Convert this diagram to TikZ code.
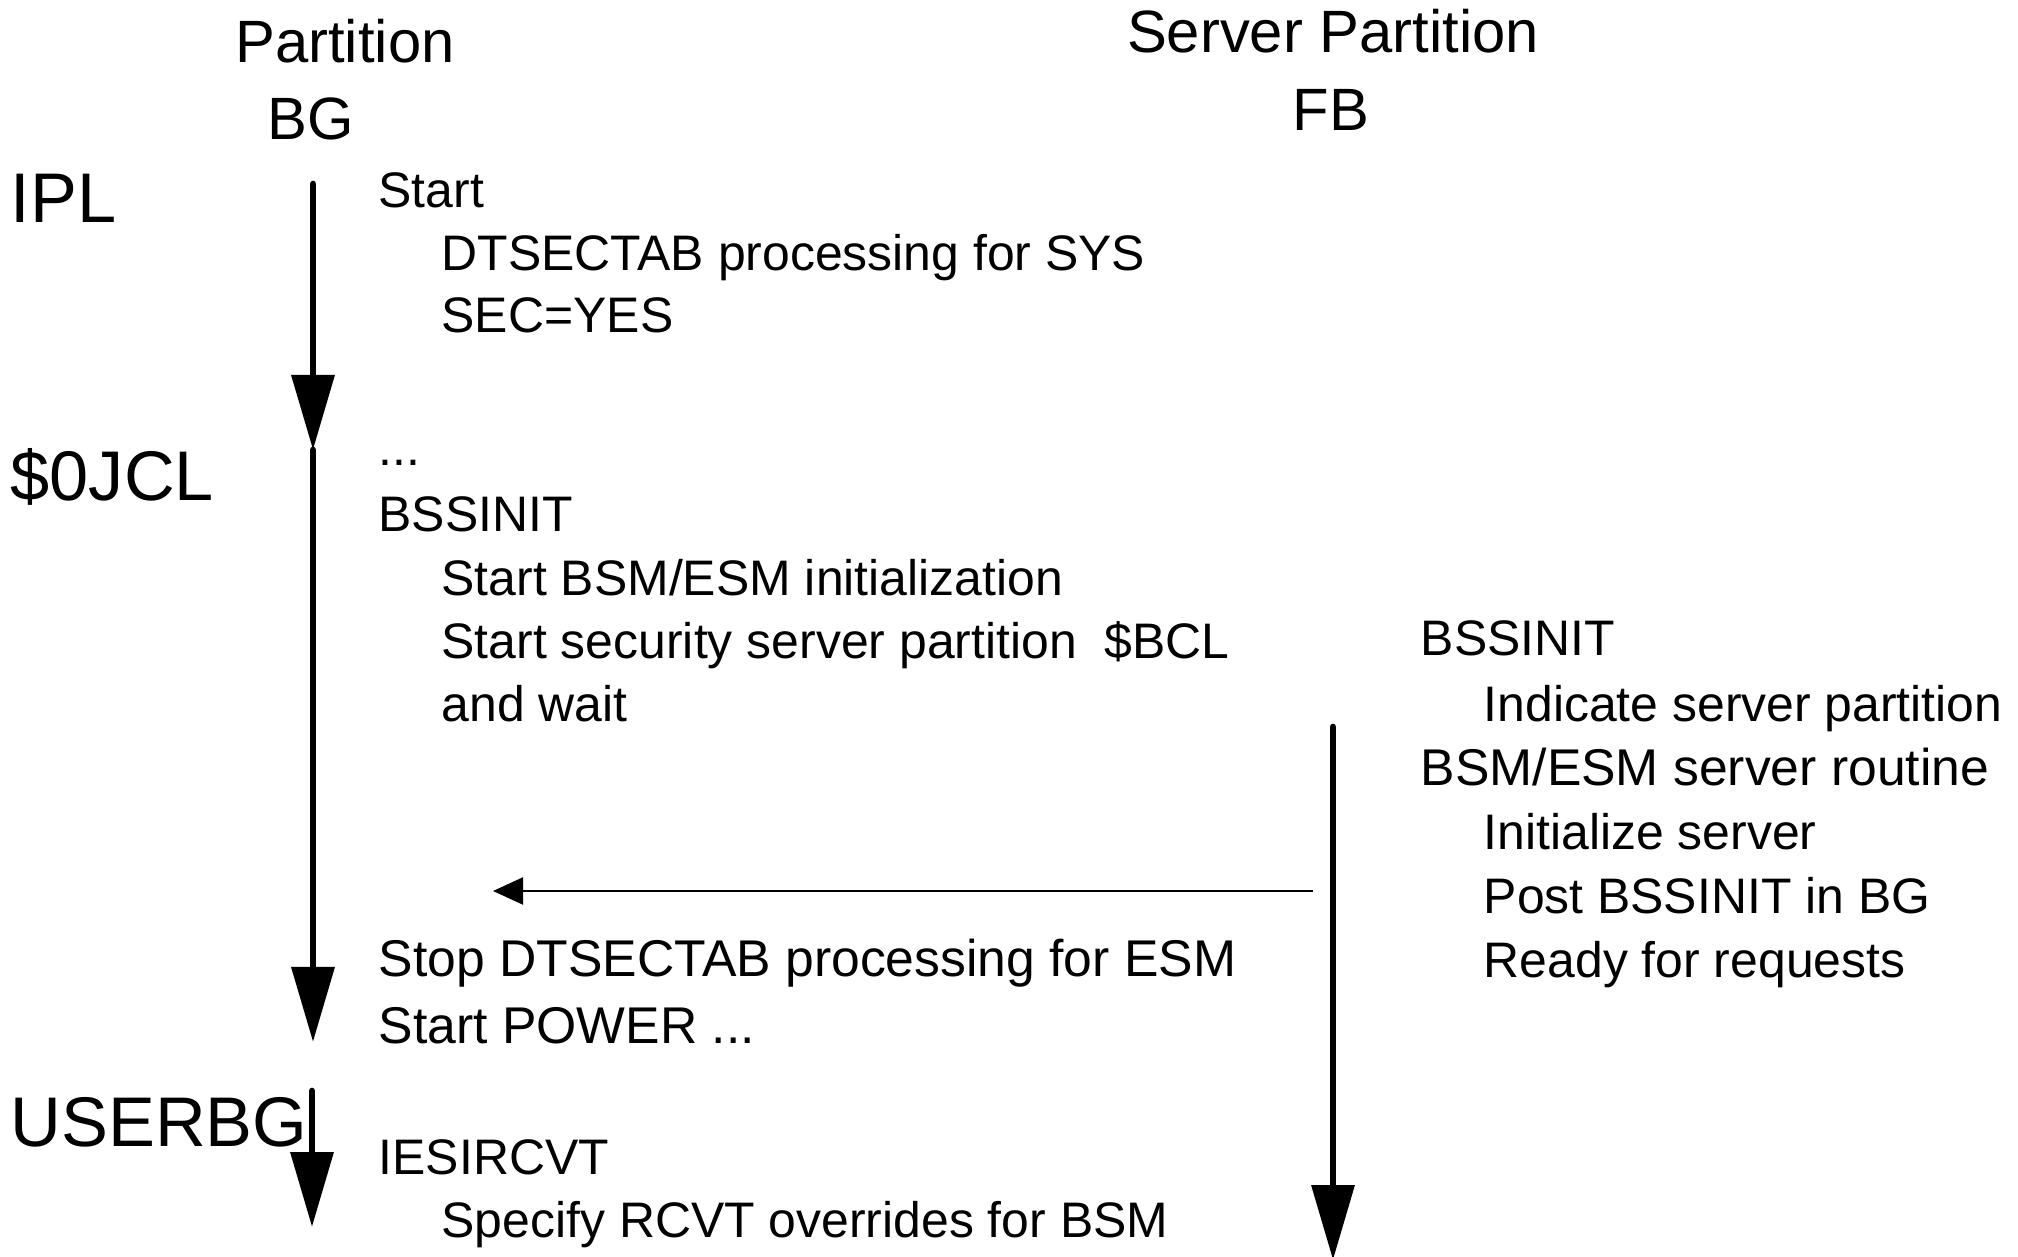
\documentclass[tikz,border=0pt]{standalone}
\usepackage{fontspec}
\setmainfont{Liberation Sans}
\usetikzlibrary{arrows.meta}

\begin{document}
\begin{tikzpicture}[
		head/.style={anchor=base, inner sep=0pt, font=\fontsize{17}{20}\selectfont},
		phase/.style={anchor=base west, inner sep=0pt, font=\fontsize{20}{24}\selectfont},
		txt/.style={anchor=base west, inner sep=0pt, font=\fontsize{14.2}{17}\selectfont},
		wtxt/.style={txt, font=\fontsize{14.7}{17}\selectfont},
		flow/.style={line width=1.9pt, line cap=round, -{Triangle[width=0.42cm, length=0.75cm]}},
		post/.style={line width=0.6pt, -{Triangle[width=0.27cm, length=0.3cm]}}]
			\useasboundingbox (0, 0) rectangle (20.18, -12.57);
			% column heads
			\draw (3.45, -0.63) node [head] (part) {Partition};
			\draw (3.11, -1.40) node [head] (bg) {BG};
			\draw (13.33, -0.53) node [head] (spart) {Server Partition};
			\draw (13.31, -1.31) node [head] (fb) {FB};
			% phases
			\draw (0.10, -2.23) node [phase] (ipl) {IPL};
			\draw (0.10, -5.01) node [phase] (jcl) {\$0JCL};
			\draw (0.10, -11.47) node [phase] (userbg) {USERBG};
			% partition BG
			\draw (3.78, -2.08) node [txt] (start) {Start};
			\draw (4.41, -2.71) node [txt] (dtsec) {DTSECTAB processing for SYS};
			\draw (4.41, -3.33) node [txt] (secyes) {SEC=YES};
			\draw (3.78, -4.66) node [txt] (dots) {...};
			\draw (3.78, -5.32) node [txt] (bssinit) {BSSINIT};
			\draw (4.41, -5.96) node [txt] (bsmstart) {Start BSM/ESM initialization};
			\draw (4.41, -6.59) node [txt] (secstart) {Start security server partition\ \ \$BCL};
			\draw (4.41, -7.22) node [txt] (andwait) {and wait};
			\draw (3.78, -9.77) node [wtxt] (stop) {Stop DTSECTAB processing for ESM};
			\draw (3.78, -10.44) node [wtxt] (power) {Start POWER ...};
			\draw (3.78, -11.74) node [txt] (iesir) {IESIRCVT};
			\draw (4.41, -12.37) node [txt] (rcvt) {Specify RCVT overrides for BSM};
			% server partition FB
			\draw (14.20, -6.56) node [txt] (sbssinit) {BSSINIT};
			\draw (14.83, -7.22) node [txt] (indicate) {Indicate server partition};
			\draw (14.20, -7.86) node [wtxt] (routine) {BSM/ESM server routine};
			\draw (14.83, -8.50) node [txt] (initsrv) {Initialize server};
			\draw (14.83, -9.14) node [txt] (postbg) {Post BSSINIT in BG};
			\draw (14.83, -9.78) node [txt] (ready) {Ready for requests};
			% arrows
			\coordinate (a1) at (3.13, -1.84);
			\coordinate (a2) at (3.13, -4.50);
			\coordinate (a3) at (3.13, -10.42);
			\coordinate (a4) at (3.12, -10.91);
			\coordinate (a5) at (3.12, -12.27);
			\coordinate (s1) at (13.33, -7.27);
			\coordinate (s2) at (13.33, -12.60);
			\coordinate (h1) at (13.13, -8.91);
			\coordinate (h2) at (4.93, -8.91);
			\draw [flow] (a1) -- (a2);
			\draw [flow] (a2) -- (a3);
			\draw [flow] (a4) -- (a5);
			\draw [flow] (s1) -- (s2);
			\draw [post] (h1) -- (h2);
		\end{tikzpicture}
\end{document}
